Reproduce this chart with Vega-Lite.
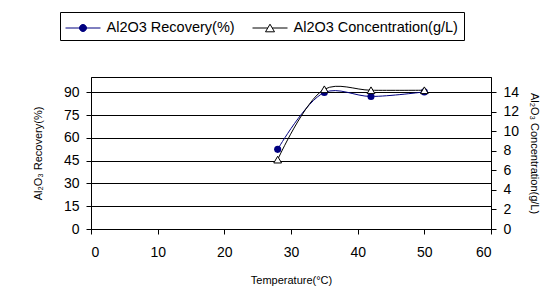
{
  "$schema": "https://vega.github.io/schema/vega-lite/v6.json",
  "width": 400,
  "height": 152,
  "autosize": "none",
  "padding": {"left": 91, "top": 77, "right": 69, "bottom": 77},
  "background": "white",
  "config": {
    "font": "Liberation Sans",
    "view": {"stroke": "black", "strokeWidth": 1},
    "axis": {
      "labelFontSize": 14,
      "labelColor": "black",
      "labelFont": "Liberation Sans",
      "titleFont": "Liberation Sans",
      "titleFontSize": 11,
      "titleFontWeight": "normal",
      "titleColor": "black",
      "domainColor": "black",
      "tickColor": "black",
      "tickSize": 5,
      "gridColor": "black",
      "gridOpacity": 1,
      "gridWidth": 1
    }
  },
  "data": {
    "values": [
      {"t": 28, "series": "Al2O3 Recovery(%)", "v": 52.4},
      {"t": 35, "series": "Al2O3 Recovery(%)", "v": 89.8},
      {"t": 42, "series": "Al2O3 Recovery(%)", "v": 87.2},
      {"t": 50, "series": "Al2O3 Recovery(%)", "v": 90.2},
      {"t": 28, "series": "Al2O3 Concentration(g/L)", "v": 7.1},
      {"t": 35, "series": "Al2O3 Concentration(g/L)", "v": 14.3},
      {"t": 42, "series": "Al2O3 Concentration(g/L)", "v": 14.2},
      {"t": 50, "series": "Al2O3 Concentration(g/L)", "v": 14.2}
    ]
  },
  "encoding": {
    "x": {
      "field": "t",
      "type": "quantitative",
      "scale": {"domain": [0, 60], "nice": false},
      "axis": {
        "values": [0, 10, 20, 30, 40, 50, 60],
        "grid": false,
        "title": "Temperature(°C)",
        "labelPadding": 11,
        "titlePadding": 15
      }
    }
  },
  "layer": [
    {
      "transform": [{"filter": "datum.series === 'Al2O3 Recovery(%)'"}],
      "encoding": {
        "y": {
          "field": "v",
          "type": "quantitative",
          "scale": {"domain": [0, 100], "nice": false},
          "axis": {
            "orient": "left",
            "values": [0, 15, 30, 45, 60, 75, 90],
            "grid": true,
            "title": "Al₂O₃ Recovery(%)",
            "labelPadding": 7,
            "titlePadding": 20
          }
        }
      },
      "layer": [
        {
          "mark": {"type": "line", "interpolate": "catmull-rom", "strokeWidth": 1},
          "encoding": {
            "stroke": {
              "field": "series",
              "type": "nominal",
              "scale": {
                "domain": ["Al2O3 Recovery(%)", "Al2O3 Concentration(g/L)"],
                "range": ["#000080", "black"]
              },
              "legend": {
                "orient": "none",
                "legendX": -31,
                "legendY": -65,
                "direction": "horizontal",
                "columns": 2,
                "title": null,
                "strokeColor": "black",
                "padding": 5.5,
                "columnPadding": 15,
                "labelFontSize": 14.5,
                "labelColor": "black",
                "labelFont": "Liberation Sans",
                "labelLimit": 400,
                "labelOffset": 13,
                "symbolOffset": 7,
                "symbolSize": 400,
                "symbolStrokeWidth": 1,
                "encode": {
                  "symbols": {
                    "update": {
                      "shape": {"signal": "datum.value === 'Al2O3 Recovery(%)' ? 'M-1.75,0H1.75M0.35,0A0.35,0.35 0 1,1 -0.35,0A0.35,0.35 0 1,1 0.35,0Z' : 'M-1.75,0H-0.22M0.22,0H1.75M-0.45,0.38L0,-0.38L0.45,0.38Z'"},
                      "fill": {"signal": "datum.value === 'Al2O3 Recovery(%)' ? '#000080' : 'white'"},
                      "fillOpacity": {"value": 1}
                    }
                  }
                }
              }
            }
          }
        },
        {
          "mark": {"type": "point", "shape": "circle", "filled": true, "color": "#000080", "size": 50, "opacity": 1}
        }
      ]
    },
    {
      "transform": [{"filter": "datum.series === 'Al2O3 Concentration(g/L)'"}],
      "encoding": {
        "y": {
          "field": "v",
          "type": "quantitative",
          "scale": {"domain": [0, 15.5556], "nice": false},
          "axis": {
            "orient": "right",
            "values": [0, 2, 4, 6, 8, 10, 12, 14],
            "grid": false,
            "title": "Al₂O₃ Concentration(g/L)",
            "labelPadding": 7,
            "titlePadding": 10
          }
        }
      },
      "layer": [
        {
          "mark": {"type": "line", "interpolate": "catmull-rom", "strokeWidth": 1},
          "encoding": {
            "stroke": {"field": "series", "type": "nominal"}
          }
        },
        {
          "mark": {"type": "point", "shape": "triangle-up", "filled": true, "fill": "white", "stroke": "black", "strokeWidth": 1, "size": 60, "opacity": 1}
        }
      ]
    }
  ],
  "resolve": {"scale": {"y": "independent"}}
}
